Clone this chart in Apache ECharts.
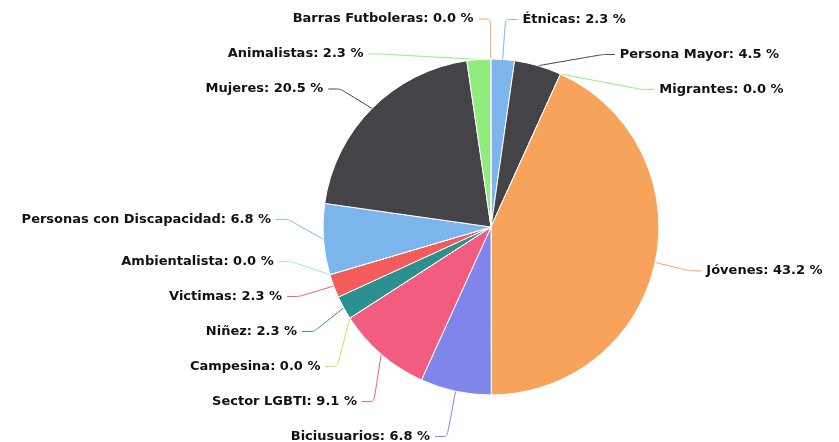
<!DOCTYPE html>
<html>
<head>
<meta charset="utf-8">
<script src="https://cdn.jsdelivr.net/npm/echarts@6/dist/echarts.min.js"></script>
<style>
  html, body { margin: 0; padding: 0; background: #fff; }
  #chart { width: 839px; height: 442px; }
</style>
</head>
<body>
<div id="chart"></div>
<script>
// categorías en el orden del gráfico (sentido horario desde arriba)
const categories = ['Étnicas', 'Persona Mayor', 'Migrantes', 'Jóvenes', 'Biciusuarios', 'Sector LGBTI',
  'Campesina', 'Niñez', 'Victimas', 'Ambientalista', 'Personas con Discapacidad', 'Mujeres',
  'Animalistas', 'Barras Futboleras'];
// conteos (total 44)
const counts = [1, 2, 0, 19, 3, 4, 0, 1, 1, 0, 3, 9, 1, 0];
const palette = ['#7cb5ec', '#434348', '#90ed7d', '#f7a35c', '#8085e9', '#f15c80', '#e4d354',
  '#2b908f', '#f45b5b', '#91e8e1'];

const total = counts.reduce((a, b) => a + b, 0);
const chart = echarts.init(document.getElementById('chart'));

chart.setOption({
  animation: false,
  color: palette,
  series: [{
    type: 'pie',
    // caja un poco más alta que el lienzo para que las etiquetas lleguen al borde
    top: -12,
    bottom: -12,
    center: [491, 239],
    radius: [0, 168],
    startAngle: 90.1,
    clockwise: true,
    avoidLabelOverlap: true,
    itemStyle: { borderColor: '#fff', borderWidth: 1 },
    label: {
      show: true,
      position: 'outside',
      color: '#111',
      fontFamily: 'DejaVu Sans',
      fontWeight: 'bold',
      fontSize: 13,
      lineHeight: 33,
      formatter: p => p.name + ': ' + (p.value / total * 100).toFixed(1) + ' %'
    },
    labelLine: { show: true, length: 40, length2: 12, smooth: 0.15, lineStyle: { width: 1 } },
    data: categories.map((name, i) => ({ name: name, value: counts[i] }))
  }]
});
</script>
</body>
</html>
